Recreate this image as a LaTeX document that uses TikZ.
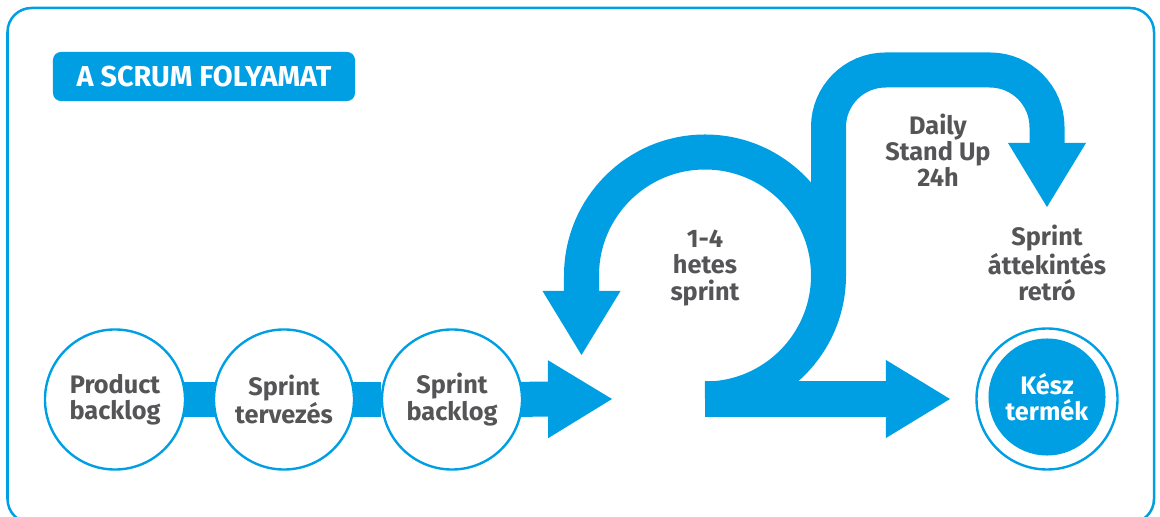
\documentclass[tikz,border=0pt]{standalone}
\usepackage{fontspec}
\setmainfont{Fira Sans}
\usetikzlibrary{arrows.meta,backgrounds}
\definecolor{scrumblue}{RGB}{0,159,227}
\definecolor{scrumgray}{RGB}{85,85,87}
\newcommand\stagefont{\fontsize{18}{18.6}\selectfont\bfseries}
\newcommand\titlefont{\fontsize{20.5}{22}\selectfont\bfseries}

\begin{document}
\begin{tikzpicture}[x=0.025cm, y=-0.025cm,
    band/.style={scrumblue, line width=0.875cm},
    bigtip/.style={-{Triangle[length=1.6cm, width=1.95cm, line width=0pt]}},
    stage/.style={circle, draw=scrumblue, line width=0.06cm, fill=white, minimum size=3.5cm,
        inner sep=0pt, align=center, text=scrumgray, font=\stagefont},
    note/.style={align=center, text=scrumgray, font=\stagefont}]
    \useasboundingbox (0,0) rectangle (1160,517);
    \clip (0,0) rectangle (1160,517);
    % Frame and title
    \draw[scrumblue, line width=0.0625cm, rounded corners=0.6cm] (7.5,8) rectangle (1154,523);
    \node[fill=scrumblue, rounded corners=0.2cm, minimum width=7.55cm, minimum height=1.225cm,
        inner sep=0pt, text=white, font=\titlefont] (title) at (204,76.5) {A SCRUM FOLYAMAT};
    % Points of the flow
    \coordinate (flowtip) at (612,399);
    \coordinate (hub) at (705,399);
    \coordinate (looptip) at (581.5,355);
    \coordinate (ringright) at (828.5,276);
    \coordinate (topright) at (1047,70);
    \coordinate (standtip) at (1047,207);
    \coordinate (donetip) at (950,399);
    % Stages
    \node[stage] (pb) at (115,399.5) {Product\\backlog};
    \node[stage] (st) at (284,399.5) {Sprint\\tervezés};
    \node[stage] (sb) at (452,399.5) {Sprint\\backlog};
    \begin{scope}[on background layer]
        \draw[band, shorten <=-0.2cm, shorten >=-0.2cm] (pb) -- (st);
        \draw[band, shorten <=-0.2cm] (st) -- (sb);
        \draw[band, bigtip, shorten <=-0.2cm] (sb) -- (flowtip);
    \end{scope}
    % Sprint loop
    \draw[band, bigtip] (hub) arc[start angle=90, end angle=-180, radius=123.5] -- (looptip);
    % Daily stand up
    \draw[band, bigtip, rounded corners=1.425cm] (ringright) |- (topright) -- (standtip);
    \draw[band, bigtip] (hub) -- (donetip);
    % Done
    \node[circle, fill=scrumblue, minimum size=2.925cm, inner sep=0pt, align=center,
        text=white, font=\stagefont] (done) at (1047,397) {Kész\\termék};
    \draw[scrumblue, line width=0.06cm] (1047,399) circle[radius=70.5];
    % Labels
    \node[note] (sprintlen) at (705,268) {1-4\\hetes\\sprint};
    \node[note] (standup) at (938,150.5) {Daily\\Stand Up\\24h};
    \node[note] (review) at (1047,263) {Sprint\\áttekintés\\retró};
\end{tikzpicture}
\end{document}
